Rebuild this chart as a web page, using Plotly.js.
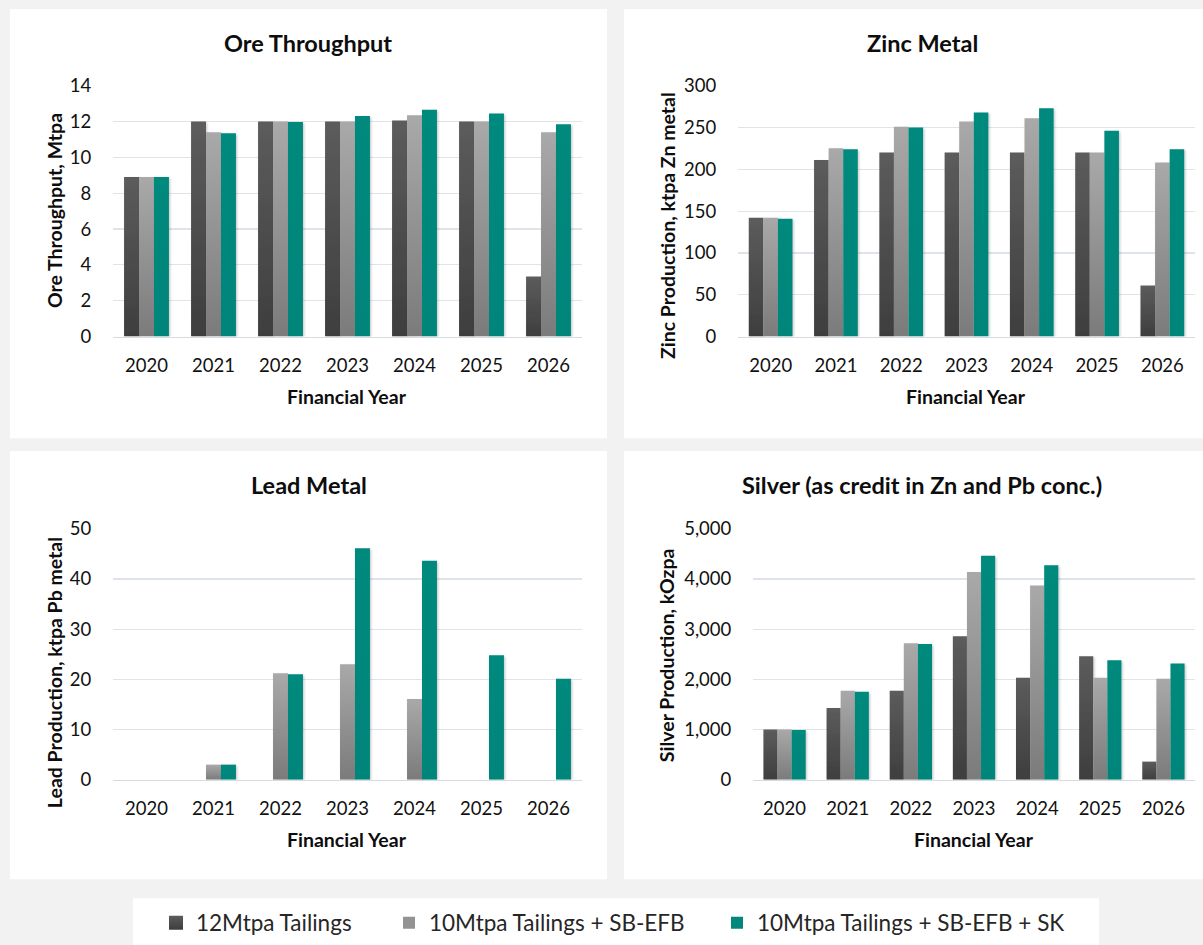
<!DOCTYPE html>
<html>
<head>
<meta charset="utf-8">
<script src="https://cdn.plot.ly/plotly-3.0.1.min.js"></script>
<style>
  html, body { margin: 0; padding: 0; background: #f2f2f2; }
  #chart { width: 1203px; height: 945px; }
</style>
</head>
<body>
<div id="chart"></div>
<script>
// Financial years on the category axis
const years = ['2020', '2021', '2022', '2023', '2024', '2025', '2026'];

// Scenario names
const seriesNames = ['12Mtpa Tailings', '10Mtpa Tailings + SB-EFB', '10Mtpa Tailings + SB-EFB + SK'];

// Ore throughput, Mtpa
const ore12 = [8.9, 12.0, 12.0, 12.0, 12.05, 12.0, 3.35];
const ore10 = [8.9, 11.4, 12.0, 12.0, 12.35, 12.0, 11.4];
const ore10sk = [8.9, 11.35, 11.97, 12.3, 12.65, 12.45, 11.85];

// Zinc production, ktpa Zn metal
const zinc12 = [142, 211, 220, 220, 220, 220, 61];
const zinc10 = [142, 225, 251, 257, 261, 220, 208];
const zinc10sk = [141, 224, 250, 268, 273, 246, 224];

// Lead production, ktpa Pb metal
const lead12 = [0, 0, 0, 0, 0, 0, 0];
const lead10 = [0, 3.0, 21.2, 23.0, 16.1, 0, 0];
const lead10sk = [0, 3.0, 21.0, 46.1, 43.6, 24.8, 20.1];

// Silver production, kOzpa
const silver12 = [1000, 1430, 1770, 2860, 2030, 2460, 360];
const silver10 = [1000, 1770, 2720, 4140, 3870, 2030, 2010];
const silver10sk = [990, 1750, 2705, 4460, 4275, 2380, 2315];

// Axis scales
const yMax = [14, 300, 50, 5000];
const yStep = [2, 50, 10, 1000];

// Panel titles and axis titles
const panelTitles = ['Ore Throughput', 'Zinc Metal', 'Lead Metal', 'Silver (as credit in Zn and Pb conc.)'];
const yTitles = ['Ore Throughput, Mtpa', 'Zinc Production, ktpa Zn metal', 'Lead Production, ktpa Pb metal', 'Silver Production, kOzpa'];
const xTitle = 'Financial Year';

// ---- layout helpers (pixel positions on a 1203 x 945 page) ----
const W = 1203, H = 945;
const px = v => v / W;
const py = v => 1 - v / H;

const FONT = 'Lato, "Open Sans", sans-serif';
const seriesColors = ['#4d4d4d', '#939393', '#01877b'];

const panelData = [
  [ore12, ore10, ore10sk],
  [zinc12, zinc10, zinc10sk],
  [lead12, lead10, lead10sk],
  [silver12, silver10, silver10sk]
];

// plot boxes: [left, right, top, bottom] in pixels
const plotBoxes = [
  [113, 582, 86, 338],
  [738, 1195, 86, 338],
  [113, 582, 531, 783],
  [753, 1195, 531, 783]
];
// white card behind each chart
const cards = [
  [10, 607, 9, 440],
  [624, 1203, 9, 440],
  [10, 607, 453, 883],
  [624, 1203, 453, 883]
];
const titlePos = [[308, 43], [922, 43], [309, 487], [922, 487]];
const xTitlePos = [[347, 398], [966, 398], [347, 843], [974, 843]];
const yTitlePos = [[54, 212], [667, 227], [54, 676], [666, 658]];
const legendIds = ['legend', 'legend2', 'legend3'];
const legendX = [156, 389, 717];

const traces = [];
panelData.forEach((group, p) => {
  const sfx = p === 0 ? '' : String(p + 1);
  group.forEach((vals, s) => {
    traces.push({
      type: 'bar',
      x: years,
      y: vals,
      name: seriesNames[s],
      xaxis: 'x' + sfx,
      yaxis: 'y' + sfx,
      marker: { color: seriesColors[s], line: { width: 0 } },
      showlegend: p === 0,
      legend: legendIds[s],
      hoverinfo: 'skip'
    });
  });
});

const tickFont = { family: FONT, size: 18.5, color: '#111' };

const layout = {
  width: W,
  height: H,
  margin: { l: 0, r: 0, t: 0, b: 0 },
  paper_bgcolor: '#f2f2f2',
  plot_bgcolor: 'rgba(0,0,0,0)',
  barmode: 'group',
  bargap: 0.33,
  bargroupgap: 0,
  font: { family: FONT, color: '#111' },
  shapes: [],
  annotations: []
};

plotBoxes.forEach((b, p) => {
  const sfx = p === 0 ? '' : String(p + 1);
  layout['xaxis' + sfx] = {
    domain: [px(b[0]), px(b[1])],
    anchor: 'y' + sfx,
    type: 'category',
    showgrid: false,
    showline: true,
    linecolor: '#d6dbe1',
    linewidth: 1.5,
    ticks: 'outside',
    ticklen: 12,
    tickcolor: 'rgba(0,0,0,0)',
    tickfont: tickFont,
    fixedrange: true
  };
  layout['yaxis' + sfx] = {
    domain: [py(b[3]), py(b[2])],
    anchor: 'x' + sfx,
    range: [0, yMax[p]],
    tick0: 0,
    dtick: yStep[p],
    tickformat: ',',
    showgrid: true,
    gridcolor: '#dfe4ea',
    gridwidth: 1.2,
    zeroline: false,
    showline: false,
    ticks: 'outside',
    ticklen: 17,
    tickcolor: 'rgba(0,0,0,0)',
    tickfont: tickFont,
    fixedrange: true
  };
});

cards.forEach(c => {
  layout.shapes.push({
    type: 'rect', xref: 'paper', yref: 'paper', layer: 'below',
    x0: px(c[0]), x1: px(c[1]), y0: py(c[3]), y1: py(c[2]),
    fillcolor: '#ffffff', line: { width: 0 }
  });
});
// legend card
layout.shapes.push({
  type: 'rect', xref: 'paper', yref: 'paper', layer: 'below',
  x0: px(133), x1: px(1099), y0: py(950), y1: py(902),
  fillcolor: '#ffffff', line: { width: 0 }
});

const ann = (text, x, y, size, angle) => ({
  text: text, xref: 'paper', yref: 'paper', x: px(x), y: py(y),
  xanchor: 'center', yanchor: 'middle', showarrow: false,
  textangle: angle || 0,
  font: { family: FONT, size: size, color: '#0d0d0d', weight: 700 }
});

panelTitles.forEach((t, p) => {
  layout.annotations.push(ann(t, titlePos[p][0], titlePos[p][1], 23.5));
  layout.annotations.push(ann(xTitle, xTitlePos[p][0], xTitlePos[p][1], 19.5));
  layout.annotations.push(ann(yTitles[p], yTitlePos[p][0], yTitlePos[p][1], 19.5, -90));
});

legendIds.forEach((id, s) => {
  layout[id] = {
    orientation: 'h',
    x: px(legendX[s]), xanchor: 'left',
    y: py(927), yanchor: 'middle',
    bgcolor: 'rgba(0,0,0,0)',
    borderwidth: 0,
    font: { family: FONT, size: 22.5, color: '#262626' },
    itemclick: false, itemdoubleclick: false
  };
});

const gd = document.getElementById('chart');
Plotly.newPlot(gd, traces, layout, { displayModeBar: false, staticPlot: true }).then(() => {
  // vertical shading on the grey bars, soft shadow on all bars
  const svgNS = 'http://www.w3.org/2000/svg';
  const defs = document.querySelector('.main-svg defs');
  const grad = (id, top, bottom) => {
    const g = document.createElementNS(svgNS, 'linearGradient');
    g.setAttribute('id', id);
    g.setAttribute('x1', '0'); g.setAttribute('y1', '0');
    g.setAttribute('x2', '0'); g.setAttribute('y2', '1');
    [[0, top], [1, bottom]].forEach(([o, c]) => {
      const st = document.createElementNS(svgNS, 'stop');
      st.setAttribute('offset', o);
      st.setAttribute('stop-color', c);
      g.appendChild(st);
    });
    defs.appendChild(g);
  };
  grad('shadeDark', '#5c5c5c', '#3e3e3e');
  grad('shadeLight', '#a9a9a9', '#7b7b7b');
  grad('shadeTeal', '#01897d', '#01857a');
  const f = document.createElementNS(svgNS, 'filter');
  f.setAttribute('id', 'barShadow');
  f.setAttribute('x', '-20%'); f.setAttribute('y', '-5%');
  f.setAttribute('width', '150%'); f.setAttribute('height', '115%');
  const ds = document.createElementNS(svgNS, 'feDropShadow');
  ds.setAttribute('dx', '1.2'); ds.setAttribute('dy', '1.2');
  ds.setAttribute('stdDeviation', '1.2');
  ds.setAttribute('flood-color', '#000'); ds.setAttribute('flood-opacity', '0.22');
  f.appendChild(ds);
  defs.appendChild(f);

  const fills = ['url(#shadeDark)', 'url(#shadeLight)', 'url(#shadeTeal)'];
  document.querySelectorAll('.barlayer g.trace').forEach((g, i) => {
    let s = i % 3;
    const d = g.__data__;
    if (d && d[0] && d[0].trace) s = seriesNames.indexOf(d[0].trace.name);
    g.style.filter = 'url(#barShadow)';
    g.querySelectorAll('path').forEach(p => { p.style.fill = fills[s]; });
  });
  document.querySelectorAll('.legend .traces, [class^="legend"] .traces').forEach(t => {
    const txt = t.querySelector('text.legendtext');
    const s = txt ? seriesNames.indexOf(txt.textContent) : -1;
    if (s < 0) return;
    t.querySelectorAll('.legendpoints path').forEach(p => {
      p.setAttribute('d', 'M7,7H-7V-7H7Z');
      p.style.fill = fills[s];
    });
  });
});
</script>
</body>
</html>
